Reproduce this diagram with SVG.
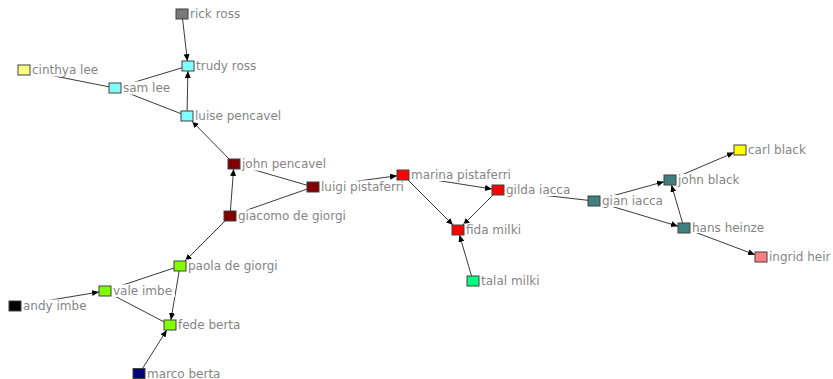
<svg xmlns="http://www.w3.org/2000/svg" width="833" height="379" viewBox="0 0 833 379">
<style>
.e{stroke:#3a3a3a;stroke-width:1;fill:none}
.a{marker-end:url(#arr)}
.bg{fill:#ffffff}
.box{stroke:#404040;stroke-width:1}
text{font-family:"DejaVu Sans",Verdana,sans-serif;font-size:12px;fill:#858585}
</style>
<defs>
<marker id="arr" markerUnits="userSpaceOnUse" markerWidth="8" markerHeight="8" refX="7" refY="3" orient="auto">
<path d="M0,0 L7,3 L0,6 Z" fill="#000"/>
</marker>
</defs>
<rect width="833" height="379" fill="#ffffff"/>
<g id="edges">
<line class="e a" x1="182" y1="14" x2="187.4" y2="61"/>
<line class="e a" x1="187" y1="116" x2="187.9" y2="71"/>
<line class="e" x1="115" y1="88" x2="188" y2="66"/>
<line class="e" x1="24" y1="70" x2="115" y2="88"/>
<line class="e" x1="115" y1="88" x2="187" y2="116"/>
<line class="e a" x1="234" y1="164" x2="191.9" y2="121"/>
<line class="e a" x1="230" y1="216" x2="233.6" y2="169"/>
<line class="e" x1="234" y1="164" x2="313" y2="187"/>
<line class="e" x1="230" y1="216" x2="313" y2="187"/>
<line class="e a" x1="313" y1="187" x2="397" y2="175.8"/>
<line class="e a" x1="403" y1="175" x2="453" y2="225"/>
<line class="e a" x1="403" y1="175" x2="492" y2="189"/>
<line class="e a" x1="498" y1="190" x2="463" y2="225"/>
<line class="e a" x1="473" y1="281" x2="459.5" y2="235"/>
<line class="e" x1="498" y1="190" x2="594" y2="201"/>
<line class="e a" x1="594" y1="201" x2="664" y2="181.7"/>
<line class="e a" x1="594" y1="201" x2="678" y2="226.2"/>
<line class="e a" x1="684" y1="228" x2="671.5" y2="185"/>
<line class="e a" x1="670" y1="180" x2="734" y2="152.6"/>
<line class="e a" x1="684" y1="228" x2="755" y2="254.7"/>
<line class="e a" x1="230" y1="216" x2="185" y2="261"/>
<line class="e a" x1="180" y1="266" x2="170.9" y2="320"/>
<line class="e" x1="180" y1="266" x2="105" y2="291"/>
<line class="e" x1="105" y1="291" x2="170" y2="325"/>
<line class="e a" x1="15" y1="306" x2="99" y2="292"/>
<line class="e a" x1="139" y1="374" x2="166.8" y2="330"/>
</g>
<g id="n-rick-ross"><rect class="bg" x="188" y="7.5" width="62" height="13"/><rect class="box" x="176" y="9" width="12" height="10" fill="#7a7a7a"/><text x="190" y="18">rick ross</text></g>
<g id="n-trudy-ross"><rect class="bg" x="194" y="59.5" width="68" height="13"/><rect class="box" x="182" y="61" width="12" height="10" fill="#80ffff"/><text x="196" y="70">trudy ross</text></g>
<g id="n-cinthya-lee"><rect class="bg" x="30" y="63.5" width="72" height="13"/><rect class="box" x="18" y="65" width="12" height="10" fill="#ffff80"/><text x="32" y="74">cinthya lee</text></g>
<g id="n-sam-lee"><rect class="bg" x="121" y="81.5" width="50" height="13"/><rect class="box" x="109" y="83" width="12" height="10" fill="#80ffff"/><text x="123" y="92">sam lee</text></g>
<g id="n-luise-pencavel"><rect class="bg" x="193" y="109.5" width="90" height="13"/><rect class="box" x="181" y="111" width="12" height="10" fill="#80ffff"/><text x="195" y="120">luise pencavel</text></g>
<g id="n-john-pencavel"><rect class="bg" x="240" y="157.5" width="90" height="13"/><rect class="box" x="228" y="159" width="12" height="10" fill="#800000"/><text x="242" y="168">john pencavel</text></g>
<g id="n-luigi-pistaferri"><rect class="bg" x="319" y="180.5" width="88" height="13"/><rect class="box" x="307" y="182" width="12" height="10" fill="#800000"/><text x="321" y="191">luigi pistaferri</text></g>
<g id="n-giacomo-de-giorgi"><rect class="bg" x="236" y="209.5" width="114" height="13"/><rect class="box" x="224" y="211" width="12" height="10" fill="#800000"/><text x="238" y="220">giacomo de giorgi</text></g>
<g id="n-marina-pistaferri"><rect class="bg" x="409" y="168.5" width="106" height="12.5"/><rect class="box" x="397" y="170" width="12" height="10" fill="#ff0000"/><text x="411" y="179">marina pistaferri</text></g>
<g id="n-gilda-iacca"><rect class="bg" x="504" y="183.5" width="72" height="12.5"/><rect class="box" x="492" y="185" width="12" height="10" fill="#ff0000"/><text x="506" y="194">gilda iacca</text></g>
<g id="n-fida-milki"><rect class="bg" x="464" y="223.5" width="62" height="13"/><rect class="box" x="452" y="225" width="12" height="10" fill="#ff0000"/><text x="466" y="234">fida milki</text></g>
<g id="n-talal-milki"><rect class="bg" x="479" y="274.5" width="66" height="13"/><rect class="box" x="467" y="276" width="12" height="10" fill="#00ff80"/><text x="481" y="285">talal milki</text></g>
<g id="n-gian-iacca"><rect class="bg" x="600" y="195" width="68" height="12"/><rect class="box" x="588" y="196" width="12" height="10" fill="#408080"/><text x="602" y="205">gian iacca</text></g>
<g id="n-john-black"><rect class="bg" x="676" y="174" width="72" height="12.5"/><rect class="box" x="664" y="175" width="12" height="10" fill="#408080"/><text x="678" y="184">john black</text></g>
<g id="n-carl-black"><rect class="bg" x="746" y="143.5" width="68" height="13"/><rect class="box" x="734" y="145" width="12" height="10" fill="#ffff00"/><text x="748" y="154">carl black</text></g>
<g id="n-hans-heinze"><rect class="bg" x="690" y="222" width="76" height="11"/><rect class="box" x="678" y="223" width="12" height="10" fill="#408080"/><text x="692" y="232">hans heinze</text></g>
<g id="n-ingrid-heir"><rect class="bg" x="767" y="250.5" width="66" height="13"/><rect class="box" x="755" y="252" width="12" height="10" fill="#ff8080"/><text x="769" y="261">ingrid heir</text></g>
<g id="n-paola-de-giorgi"><rect class="bg" x="186" y="259.5" width="98" height="13"/><rect class="box" x="174" y="261" width="12" height="10" fill="#80ff00"/><text x="188" y="270">paola de giorgi</text></g>
<g id="n-vale-imbe"><rect class="bg" x="111" y="284.5" width="64" height="12.5"/><rect class="box" x="99" y="286" width="12" height="10" fill="#80ff00"/><text x="113" y="295">vale imbe</text></g>
<g id="n-andy-imbe"><rect class="bg" x="21" y="299.5" width="70" height="13"/><rect class="box" x="9" y="301" width="12" height="10" fill="#000000"/><text x="23" y="310">andy imbe</text></g>
<g id="n-fede-berta"><rect class="bg" x="176" y="318.5" width="70" height="13"/><rect class="box" x="164" y="320" width="12" height="10" fill="#80ff00"/><text x="178" y="329">fede berta</text></g>
<g id="n-marco-berta"><rect class="bg" x="145" y="367.5" width="78" height="11.5"/><rect class="box" x="133" y="368.5" width="12" height="10" fill="#000080"/><text x="147" y="377.5">marco berta</text></g>
</svg>
